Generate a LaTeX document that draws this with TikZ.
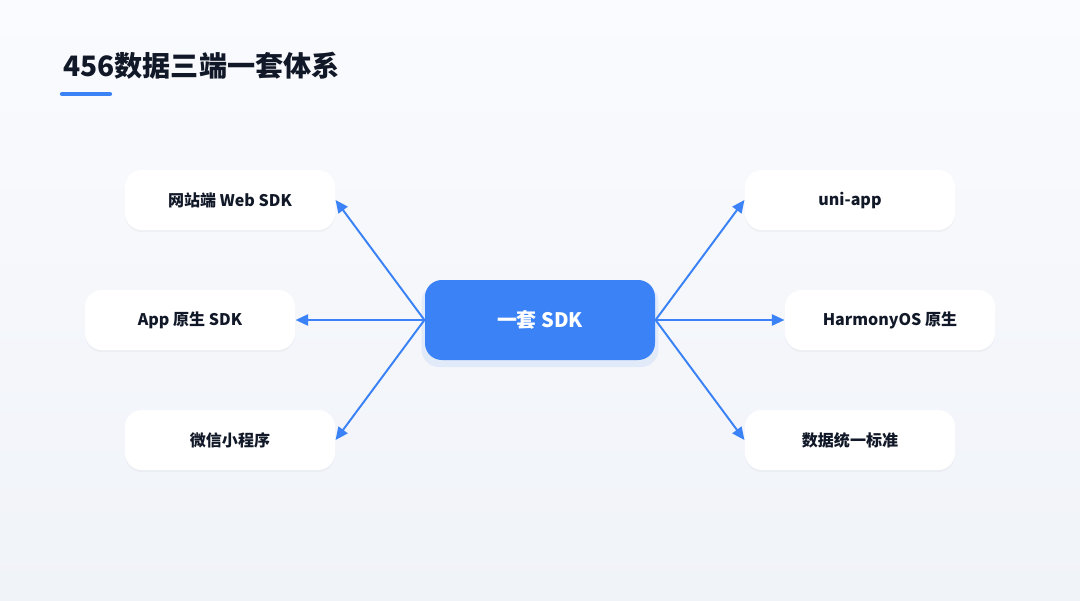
\documentclass[tikz,border=0pt]{standalone}
\usepackage{fontspec}
\setmainfont{Noto Sans CJK SC}
\usetikzlibrary{arrows.meta,shadows,positioning}
\definecolor{sdkblue}{HTML}{3B82F6}
\definecolor{inktext}{HTML}{111827}
\definecolor{bgtop}{HTML}{FAFBFE}
\definecolor{bgbot}{HTML}{F0F3F8}
\begin{document}
\begin{tikzpicture}[x=0.025cm, y=-0.025cm, thick,
  leaf/.style = {draw=none, fill=white, rounded corners=12, minimum width=210*0.025cm, minimum height=60*0.025cm,
     font=\fontsize{11.4}{13}\selectfont\bfseries, text=inktext,
     drop shadow={shadow xshift=0pt, shadow yshift=-1.5pt, opacity=0.03, fill=black}},
  hub/.style = {fill=sdkblue, rounded corners=12, minimum width=230*0.025cm, minimum height=80*0.025cm,
     font=\fontsize{14.2}{16}\selectfont\bfseries, text=white,
     drop shadow={shadow xshift=0pt, shadow yshift=-4pt, shadow scale=1.03, opacity=0.1, fill=sdkblue}},
  link/.style = {draw=sdkblue, line width=1.4pt, -{Triangle[length=9pt, width=8pt]}}]
	\shade[top color=bgtop, bottom color=bgbot] (0,0) rectangle (1080,600);
	\useasboundingbox (0,0) rectangle (1080,600);

	\node[anchor=base west, font=\fontsize{20}{24}\selectfont\bfseries, text=inktext] (title) at (58,76) {456数据三端一套体系};
	\draw[sdkblue, line width=3pt, line cap=round] (62,94) -- (110,94);

	\node[hub] (sdk) at (540,320) {一套 SDK};

	\node[leaf] (web) at (230,200) {网站端 Web SDK};
	\node[leaf] (app) at (190,320) {App 原生 SDK};
	\node[leaf] (wx) at (230,440) {微信小程序};
	\node[leaf] (uni) at (850,200) {uni-app};
	\node[leaf] (hm) at (890,320) {HarmonyOS 原生};
	\node[leaf] (std) at (850,440) {数据统一标准};

	\draw[link] (sdk.west) -- (web.east);
	\draw[link] (sdk.west) -- (app.east);
	\draw[link] (sdk.west) -- (wx.east);
	\draw[link] (sdk.east) -- (uni.west);
	\draw[link] (sdk.east) -- (hm.west);
	\draw[link] (sdk.east) -- (std.west);
\end{tikzpicture}
\end{document}
